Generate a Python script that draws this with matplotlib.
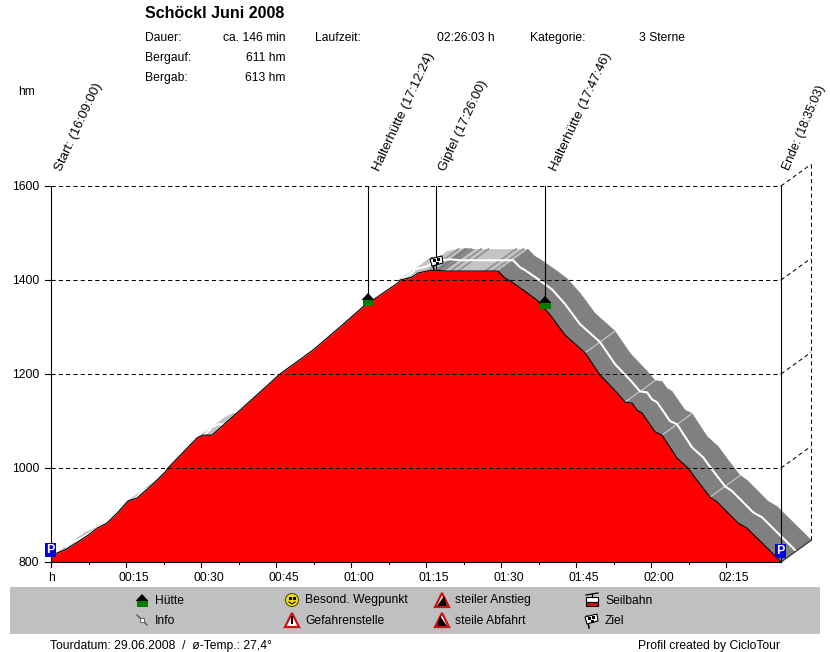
import numpy as np
import matplotlib
matplotlib.use("Agg")
import matplotlib.pyplot as plt
from matplotlib.patches import Polygon, Rectangle, Circle

plt.rcParams["font.family"] = ["Liberation Sans", "DejaVu Sans"]

# profile (minutes, hm)
minutes = [0, 1.2, 2.8, 4.4, 7.4, 9.2, 11.2, 13.4, 15.4, 17.2, 20.2, 22.8, 23.4, 29.2, 30.4, 32.2, 37.8,
           45.8, 52.4, 57.8, 62.4, 69.4, 69.8, 72.2, 73.4, 75.2, 76.8, 78.8, 89.4, 90.8, 91.8, 94.4,
           97.2, 99.8, 102.8, 106.8, 109.8, 113.2, 114.8, 116.2, 117.2, 118.2, 120.8, 122.2, 125.2,
           127.4, 129.2, 131.8, 133.2, 137.4, 139.2, 145.2, 146]
height = [809, 819, 826, 836, 857, 872, 883, 906, 930, 936, 964, 991, 1000, 1064, 1070, 1070, 1123,
          1200, 1251, 1300, 1343, 1394, 1400, 1406, 1415, 1419, 1421, 1419, 1419, 1404, 1398, 1379,
          1357, 1326, 1283, 1245, 1198, 1160, 1140, 1138, 1123, 1117, 1077, 1070, 1021,
          1000, 974, 938, 928, 883, 872, 809, 800]

waypoint_names = ["Start: (16:09:00)", "Halterhütte (17:12:24)", "Gipfel (17:26:00)",
                  "Halterhütte (17:47:46)", "Ende: (18:35:03)"]
waypoint_min = [0, 63.4, 77, 98.8, 146]
waypoint_low = [800, 1365, 1425, 1350, 800]
y_ticks = [800, 1000, 1200, 1400, 1600]
x_ticks = [15, 30, 45, 60, 75, 90, 105, 120, 135]
x_labels = ["00:15", "00:30", "00:45", "01:00", "01:15", "01:30", "01:45", "02:00", "02:15"]
flat_stripes = [75.5, 78, 80, 81.5, 87, 88.5]
light_stripes = [106.8, 114.8, 122.2, 131.8]

# depth of the ribbon behind the profile
dx, dy = 6, 46

fig = plt.figure(figsize=(8.3, 6.52), dpi=100)
ax = fig.add_axes([51 / 830, 1 - 562 / 652, 730 / 830, 376 / 652])
ax.set_xlim(0, 146)
ax.set_ylim(800, 1600)
ax.axis("off")

# overlay in pixels for texts and the little icons
ov = fig.add_axes([0, 0, 1, 1], zorder=5)
ov.set_xlim(0, 830)
ov.set_ylim(652, 0)
ov.axis("off")
ov.patch.set_alpha(0)

# ribbon
for i in range(len(minutes) - 1):
    t0, t1 = minutes[i], minutes[i + 1]
    h0, h1 = height[i], height[i + 1]
    slope = (h1 - h0) / (t1 - t0)
    col = "#808080" if slope < -0.5 else "#c4c4c4"
    ax.add_patch(Polygon([(t0, h0), (t1, h1), (t1 + dx, h1 + dy), (t0 + dx, h0 + dy)],
                         fc=col, ec=col, lw=0.5, clip_on=False, zorder=1))
for t in flat_stripes:
    ax.plot([t, t + dx], [1420, 1420 + dy], color="#909090", lw=1.2, clip_on=False, zorder=1.5)
for t in light_stripes:
    h = np.interp(t, minutes, height)
    ax.plot([t, t + dx], [h, h + dy], color="#c4c4c4", lw=0.9, clip_on=False, zorder=1.5)
ax.plot(np.array(minutes) + dx / 2, np.array(height) + dy / 2, color="white", lw=1.5,
        clip_on=False, zorder=2)

ax.fill_between(minutes, height, 800, color="#ff0000", lw=0, zorder=3)
ax.plot(minutes, height, color="black", lw=0.8, zorder=3.5)

# grid and back wall
dash = (0, (4, 3))
for h in y_ticks[1:]:
    ax.plot([0, 146], [h, h], color="black", lw=0.75, ls=dash, clip_on=False, zorder=3.7)
    ax.plot([146, 146 + dx], [h, h + dy], color="black", lw=0.75, ls=dash, clip_on=False, zorder=3.7)
ax.plot([146 + dx, 146 + dx], [800 + dy, 1600 + dy], color="black", lw=0.75, ls=dash, clip_on=False, zorder=3.7)
ax.plot([146, 146 + dx], [800, 800 + dy], color="#404040", lw=1, clip_on=False, zorder=3.7)

# axes lines
ax.plot([0, 146], [800, 800], color="black", lw=0.8, clip_on=False, zorder=4)
ax.plot([0, 0], [800, 1600], color="black", lw=0.8, clip_on=False, zorder=4)
ax.plot([146, 146], [800, 1600], color="black", lw=0.8, clip_on=False, zorder=4)

# waypoint lines and labels
for t, low in zip(waypoint_min[1:4], waypoint_low[1:4]):
    ax.plot([t, t], [low, 1600], color="black", lw=0.8, zorder=4)
label_x = [59, 377, 443, 554, 786]
label_size = [9.5, 9.5, 9.5, 9.5, 8.8]
label_rot = [65, 65, 65, 65, 67]
for x, name, fs, rot in zip(label_x, waypoint_names, label_size, label_rot):
    ov.text(x, 170, name, rotation=rot, rotation_mode="anchor", ha="left", va="center", fontsize=fs)

# ticks
for t in x_ticks:
    px = 51 + t * 5
    ov.plot([px, px], [562, 567], color="black", lw=0.8)
    ov.plot([px - 37.5, px - 37.5], [562, 564], color="black", lw=0.7)
ov.plot([51, 51], [562, 567], color="black", lw=0.8)
for t, lab in zip(x_ticks, x_labels):
    ov.text(51 + t * 5 - 8, 578, lab, ha="left", va="center", fontsize=8.7)
ov.text(51, 578, "h", ha="center", va="center", fontsize=8.7)
for h in y_ticks:
    py = 562 - (h - 800) * 0.47
    ov.plot([45, 51], [py, py], color="black", lw=0.8)
    ov.text(39, py + 1, str(h), ha="right", va="center", fontsize=8.7)
ov.text(18, 92, "hm", ha="left", va="center", fontsize=8.7)

# header
ov.text(145, 13.5, "Schöckl Juni 2008", fontsize=11.5, fontweight="bold", ha="left", va="center")
for y, a, b in [(38, "Dauer:", "ca. 146 min"), (58, "Bergauf:", "611 hm"), (78, "Bergab:", "613 hm")]:
    ov.text(145, y, a, fontsize=8.7, ha="left", va="center")
    ov.text(285, y, b, fontsize=8.7, ha="right", va="center")
ov.text(315, 38, "Laufzeit:", fontsize=8.7, ha="left", va="center")
ov.text(495, 38, "02:26:03 h", fontsize=8.7, ha="right", va="center")
ov.text(530, 38, "Kategorie:", fontsize=8.7, ha="left", va="center")
ov.text(639, 38, "3 Sterne", fontsize=8.7, ha="left", va="center")


def hut(cx, cy):
    ov.add_patch(Rectangle((cx - 5.5, cy), 11, 7, fc="#007f00", ec="none", zorder=7))
    ov.add_patch(Polygon([(cx - 6.5, cy + 1), (cx, cy - 6), (cx + 6.5, cy + 1)], fc="black", ec="none", zorder=7))


def flag(cx, cy):
    ov.plot([cx - 4, cx - 2], [cy - 3, cy + 9], color="black", lw=1.1, zorder=7)
    ov.add_patch(Polygon([(cx - 6, cy - 2), (cx + 6, cy - 5), (cx + 7, cy + 2), (cx - 4, cy + 5)],
                         fc="white", ec="black", lw=0.8, zorder=7))
    ov.add_patch(Rectangle((cx - 3, cy - 2), 3, 3, fc="black", ec="none", zorder=7))
    ov.add_patch(Rectangle((cx + 1, cy - 3), 3, 3, fc="black", ec="none", zorder=7))
    ov.add_patch(Rectangle((cx, cy + 1), 3, 2.5, fc="black", ec="none", zorder=7))


def parking(cx, cy):
    ov.add_patch(Rectangle((cx - 5.5, cy - 7), 11, 14, fc="#0000e0", ec="none", zorder=7))
    ov.text(cx, cy, "P", color="white", fontsize=9, fontweight="bold", ha="center", va="center", zorder=8)


def warn(cx, cy, inner):
    ov.add_patch(Polygon([(cx - 7, cy + 7), (cx, cy - 7), (cx + 7, cy + 7)], fc="white", ec="#d01010", lw=1.6, zorder=7))
    ov.add_patch(Polygon(inner, fc="black", ec="none", zorder=8))


hut(368, 299)
hut(545, 302)
flag(436, 261)
parking(50.5, 550)
parking(780, 551)

# legend
ov.add_patch(Rectangle((10, 587), 810, 47, fc="#c0c0c0", ec="none", zorder=1))
legend_text = [(155, 600, "Hütte"), (155, 620, "Info"), (305, 600, "Besond. Wegpunkt"), (305, 620, "Gefahrenstelle"),
               (455, 600, "steiler Anstieg"), (455, 620, "steile Abfahrt"), (605, 600, "Seilbahn"), (605, 620, "Ziel")]
for x, y, s in legend_text:
    ov.text(x, y + 0.5, s, fontsize=8.7, ha="left", va="center", zorder=7)

hut(142, 600)
# pin
ov.plot([137, 147], [615, 625], color="#555555", lw=1, zorder=7)
ov.add_patch(Rectangle((140, 618), 4, 4, angle=0, fc="white", ec="#555555", lw=0.6, zorder=7))
# smiley
ov.add_patch(Circle((292, 600), 6.5, fc="#f5e020", ec="#505000", lw=0.8, zorder=7))
ov.plot([290, 294], [598, 598], color="black", lw=0, marker="s", ms=1.3, zorder=8)
ov.plot([289, 292, 295], [602, 604, 602], color="black", lw=0.8, zorder=8)
# danger
warn(292, 620, [(290.8, 616), (293.2, 616), (293.2, 624), (290.8, 624)])
warn(442, 600, [(437, 606), (444, 596), (447, 606)])
warn(442, 620, [(437, 626), (440, 616), (447, 626)])
# cable car
ov.add_patch(Rectangle((586, 597), 12, 5, fc="white", ec="black", lw=0.8, zorder=7))
ov.add_patch(Rectangle((586, 602), 12, 4, fc="#d01010", ec="black", lw=0.8, zorder=7))
ov.plot([586, 598], [595, 593], color="black", lw=0.9, zorder=7)
ov.plot([592, 592], [594, 597], color="black", lw=0.9, zorder=7)
flag(591, 619)

# footer
ov.text(50, 646.5, "Tourdatum: 29.06.2008  /  ø-Temp.: 27,4°", fontsize=8.7, ha="left", va="center")
ov.text(780, 646.5, "Profil created by CicloTour", fontsize=8.7, ha="right", va="center")

fig.savefig("out.png", dpi=100)
